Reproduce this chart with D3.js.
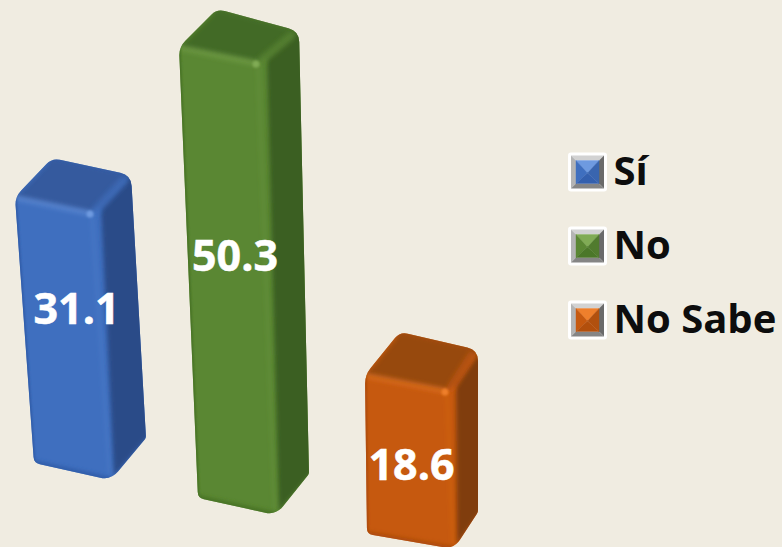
<!DOCTYPE html>
<html><head><meta charset="utf-8">
<style>html,body{margin:0;padding:0;background:#f0ece1;overflow:hidden}svg{display:block}
text{font-family:"Open Sans",Lato,sans-serif;font-weight:700}</style>
<script src="https://cdn.jsdelivr.net/npm/d3@7/dist/d3.min.js"></script></head><body>
<script>
const categories = ["Sí", "No", "No Sabe"];
const values = [31.1, 50.3, 18.6];
const valueLabels = ["31.1", "50.3", "18.6"];
const frontColors = ["#3f6fbf", "#5a8733", "#c6590f"];
const topColors = ["#345a9e", "#436b28", "#974a0e"];
const sideColors = ["#2c4c88", "#3b5f22", "#803c0b"];
const lightColors = ["#6e9ae0", "#80ab55", "#ee7f2c"];
const darkColors = ["#2f5aa6", "#447024", "#a94a0a"];

const W = 782, H = 547;
// Camera layout: where each column stands in the oblique view
const baseX = d3.scaleOrdinal(categories, [34, 198, 367]);
const baseY = d3.scaleOrdinal(categories, [463, 498, 534]);
const foreshorten = d3.scaleOrdinal(categories, [0.952, 1, 0.95]);
const lean = d3.scaleOrdinal(categories, [19, 19, 2]);
const widthBottom = d3.scaleOrdinal(categories, [77, 78, 87]);
const widthTop = d3.scaleOrdinal(categories, [77, 79, 82]);
const slopeFront = d3.scaleOrdinal(categories, [17, 17, 15]);
const depthBottom = d3.scaleOrdinal(categories, [[35, -42], [33, -41], [24, -37]]);
const depthTop = d3.scaleOrdinal(categories, [[39, -39], [41, -33], [31, -42]]);
const depthTopLeft = d3.scaleOrdinal(categories, [[37, -39], [38, -38], [35, -43]]);
const y = d3.scaleLinear().domain([0, 50.3]).range([0, 450]);
const labelX = d3.scaleOrdinal(categories, [76.5, 235, 411.5]);
const labelY = d3.scaleOrdinal(categories, [324, 271, 480]);
const legendY = d3.scalePoint().domain(categories).range([172, 320]);

const svg = d3.select("body").append("svg").attr("width", W).attr("height", H);
svg.append("rect").attr("width", W).attr("height", H).attr("fill", "#f0ece1");
const defs = svg.append("defs");
[["b05", 0.5], ["b1", 1.2], ["b2", 2.2], ["b3", 3.5]].forEach(([id, s]) => {
  defs.append("filter").attr("id", id)
    .attr("filterUnits", "userSpaceOnUse").attr("x", 0).attr("y", 0).attr("width", W).attr("height", H)
    .append("feGaussianBlur").attr("stdDeviation", s);
});

function rounded(pts, radii) {
  const n = pts.length; let d = "";
  pts.forEach((p, i) => {
    const a = pts[(i + n - 1) % n], b = pts[(i + 1) % n], r = radii[i];
    const la = Math.hypot(a[0] - p[0], a[1] - p[1]), lb = Math.hypot(b[0] - p[0], b[1] - p[1]);
    const s = [p[0] + (a[0] - p[0]) * r / la, p[1] + (a[1] - p[1]) * r / la];
    const e = [p[0] + (b[0] - p[0]) * r / lb, p[1] + (b[1] - p[1]) * r / lb];
    d += (i ? "L" : "M") + s[0] + "," + s[1] + "Q" + p[0] + "," + p[1] + " " + e[0] + "," + e[1];
  });
  return d + "Z";
}
const poly = ps => "M" + ps.map(p => p.join(",")).join("L") + "Z";
const seg = (a, b) => "M" + a.join(",") + "L" + b.join(",");
const mix = (a, b, t) => [a[0] + (b[0] - a[0]) * t, a[1] + (b[1] - a[1]) * t];
const add = (a, dx, dy) => [a[0] + dx, a[1] + dy];

const bars = svg.append("g");
categories.forEach((c, i) => {
  const h = y(values[i]) * foreshorten(c);
  const fbl = [baseX(c), baseY(c)];
  const fbr = [fbl[0] + widthBottom(c), fbl[1] + slopeFront(c)];
  const rb = [fbr[0] + depthBottom(c)[0], fbr[1] + depthBottom(c)[1]];
  const ftl = [fbl[0] - lean(c), fbl[1] - 1 - h];
  const ftr = [ftl[0] + widthTop(c), ftl[1] + 17];
  const bkr = [ftr[0] + depthTop(c)[0], ftr[1] + depthTop(c)[1]];
  const bkl = [ftl[0] + depthTopLeft(c)[0], ftl[1] + depthTopLeft(c)[1]];

  const g = bars.append("g");
  const outline = rounded([ftl, bkl, bkr, rb, fbr, fbl], [9, 8, 11, 2, 11, 6]);
  defs.append("clipPath").attr("id", "clip" + i).append("path").attr("d", outline);
  g.append("path").attr("d", outline).attr("fill", frontColors[i]);
  const inner = g.append("g").attr("clip-path", `url(#clip${i})`);
  const faces = inner.append("g");
  // ridge where the dark side face begins sits a little outside the front corner
  const ridgeTop = add(ftr, 9, -7), ridgeBot = add(fbr, 3, -4);
  faces.append("path").attr("d", poly([ftl, bkl, bkr, ridgeTop, add(ftr, 0, -2)])).attr("fill", topColors[i]).attr("filter", "url(#b2)");
  faces.append("path").attr("d", poly([ridgeTop, add(bkr, 8, -8), add(rb, 8, -8), ridgeBot])).attr("fill", sideColors[i]).attr("filter", "url(#b2)");
  const soft = inner.append("g").attr("fill", "none").attr("stroke-linecap", "round");
  // bevels along the front-top edge and the vertical ridge
  soft.append("path").attr("d", seg(add(ftl, 3, 1), add(ftr, -2, -1)))
    .attr("stroke", lightColors[i]).attr("stroke-width", 6).attr("stroke-opacity", .45).attr("filter", "url(#b2)");
  soft.append("path").attr("d", seg(add(ftr, 0, 2), add(fbr, -1, -5)))
    .attr("stroke", lightColors[i]).attr("stroke-width", 3).attr("stroke-opacity", .18).attr("filter", "url(#b2)");
  soft.append("path").attr("d", seg(add(ftr, 4, -4), add(mix(ftr, bkr, 0.85), -2, 0)))
    .attr("stroke", frontColors[i]).attr("stroke-width", 9).attr("stroke-opacity", .6).attr("filter", "url(#b2)");
  soft.append("path").attr("d", seg(mix(ftl, bkl, .2), mix(ftl, bkl, .85)))
    .attr("stroke", frontColors[i]).attr("stroke-width", 4).attr("stroke-opacity", .3).attr("filter", "url(#b2)");
  soft.append("path").attr("d", seg(fbl, fbr)).attr("stroke", darkColors[i]).attr("stroke-width", 5).attr("filter", "url(#b2)");
  soft.append("path").attr("d", seg(ftl, fbl)).attr("stroke", darkColors[i]).attr("stroke-width", 3).attr("filter", "url(#b1)");
  soft.append("path").attr("d", seg(bkl, bkr)).attr("stroke", sideColors[i]).attr("stroke-width", 2).attr("stroke-opacity", .4).attr("filter", "url(#b1)");
  inner.append("circle").attr("cx", ftr[0] - 2).attr("cy", ftr[1]).attr("r", 3.5)
    .attr("fill", lightColors[i]).attr("filter", "url(#b1)");
});

svg.append("g").selectAll("text").data(categories).join("text")
  .attr("x", c => labelX(c)).attr("y", c => labelY(c))
  .attr("text-anchor", "middle").attr("fill", "#fff").attr("font-size", 43)
  .attr("stroke", "#fff").attr("stroke-width", .5)
  .text((c, i) => valueLabels[i]);

const legend = svg.append("g").selectAll("g").data(categories).join("g")
  .attr("transform", c => `translate(587.5,${legendY(c)})`);
legend.append("rect").attr("x", -19.5).attr("y", -19.5).attr("width", 39).attr("height", 39).attr("rx", 3).attr("fill", "#fff");
const O = 16.5, I = 11.5;
const frame = [
  [[-O, -O], [O, -O], [I, -I], [-I, -I], "#d2d2d2"],
  [[-O, -O], [-I, -I], [-I, I], [-O, O], "#b4b4b4"],
  [[O, -O], [O, O], [I, I], [I, -I], "#6a6a6a"],
  [[-O, O], [-I, I], [I, I], [O, O], "#858585"]
];
frame.forEach(f => legend.append("path").attr("d", poly(f.slice(0, 4))).attr("fill", f[4]));
legend.each(function (c, i) {
  const g = d3.select(this), k = I, m = [0, 1];
  const shades = [lightColors[i], frontColors[i], d3.interpolateRgb(frontColors[i], sideColors[i])(0.3), d3.interpolateRgb(frontColors[i], darkColors[i])(0.7)];
  [[[-k, -k], [k, -k], m, shades[0]], [[-k, -k], m, [-k, k], shades[1]],
   [[k, -k], [k, k], m, shades[2]], [[-k, k], m, [k, k], shades[3]]].forEach(t =>
    g.append("path").attr("d", poly(t.slice(0, 3))).attr("fill", t[3]).attr("stroke", t[3]).attr("stroke-width", .4));
});
legend.append("text").attr("x", 26).attr("y", 13).attr("font-size", 40).attr("fill", "#0d0d0d").text(c => c);
</script></body></html>
